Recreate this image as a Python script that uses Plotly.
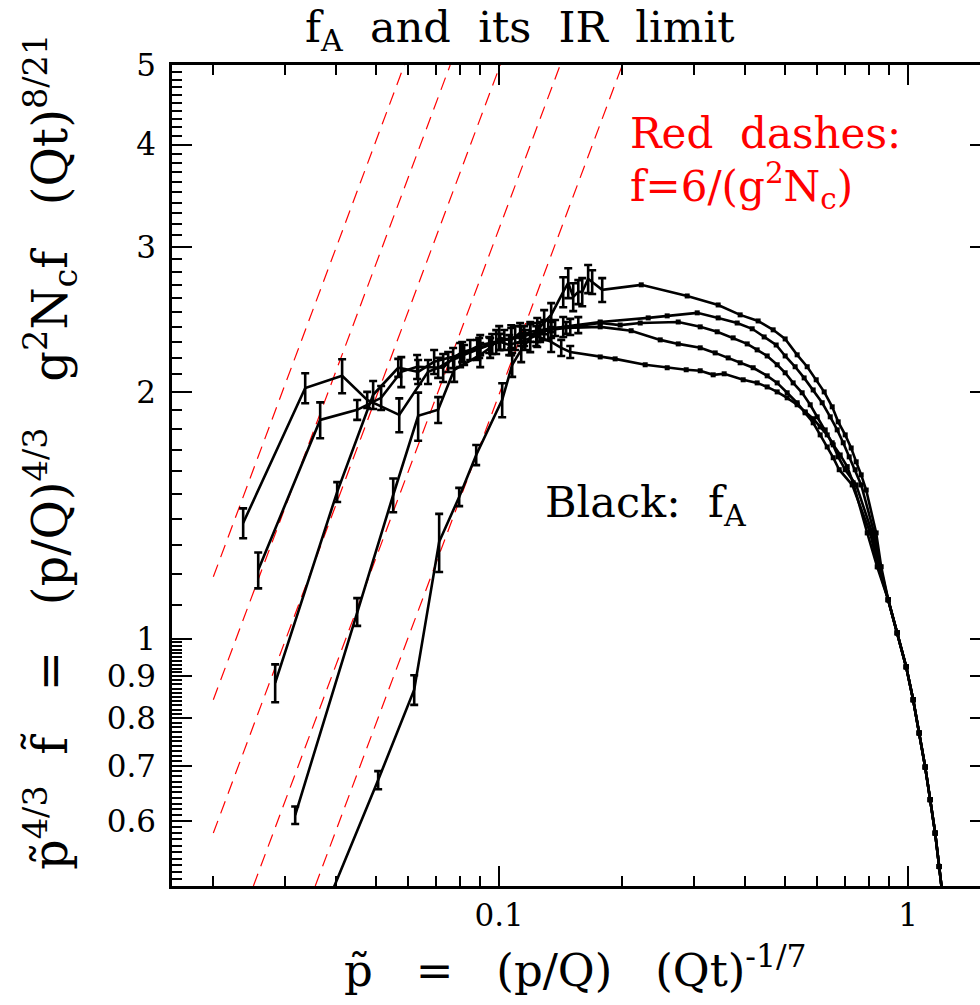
import math
import plotly.graph_objects as go

# ---------------- data ----------------
# Curve A (reaches the lowest p~)
a_ir_x = [0.02366, 0.03355, 0.0413, 0.04756, 0.05697, 0.06699, 0.07092, 0.07503, 0.0821, 0.08836,
          0.09453, 0.10056, 0.1058, 0.1158, 0.1232, 0.1340, 0.1418, 0.1492]
a_ir_y = [1.384, 2.021, 2.091, 1.955, 1.874, 2.115, 2.139, 2.175, 2.218, 2.249,
          2.280, 2.300, 2.280, 2.313, 2.339, 2.300, 2.262, 2.236]
a_ir_err = [0.058, 0.085, 0.10, 0.044, 0.089, 0.071, 0.060, 0.061, 0.062, 0.063,
            0.051, 0.052, 0.064, 0.065, 0.065, 0.064, 0.051, 0.038]
a_hi_x = [0.1766, 0.1921, 0.2275, 0.2575, 0.2866, 0.3101, 0.3336, 0.3549, 0.3950, 0.4273, 0.4521,
          0.4783, 0.5059, 0.5352, 0.5599, 0.5858, 0.6093, 0.6339, 0.6557, 0.6820, 0.7095,
          0.7337, 0.7941, 0.8399]
a_hi_y = [2.205, 2.193, 2.157, 2.139, 2.127, 2.121, 2.097, 2.103, 2.068, 2.050, 2.027,
          1.999, 1.966, 1.928, 1.890, 1.854, 1.812, 1.772, 1.723, 1.675, 1.621,
          1.549, 1.346, 1.224]

# Curve B
b_ir_x = [0.02575, 0.0365, 0.04496, 0.05145, 0.05762, 0.0630, 0.07295, 0.07716, 0.08118, 0.08936,
          0.09614, 0.1029, 0.1094, 0.1151, 0.1259, 0.1340, 0.1458]
b_ir_y = [1.213, 1.848, 1.901, 1.966, 2.115, 2.145, 2.139, 2.199, 2.236, 2.262,
          2.287, 2.313, 2.326, 2.339, 2.366, 2.379, 2.392]
b_ir_err = [0.061, 0.093, 0.053, 0.066, 0.089, 0.072, 0.084, 0.062, 0.063, 0.063,
            0.064, 0.065, 0.078, 0.065, 0.066, 0.053, 0.040]
b_hi_x = [0.1766, 0.2102, 0.2476, 0.2740, 0.3101, 0.3374, 0.3630, 0.3883, 0.4178, 0.4521, 0.4783,
          0.5059, 0.5352, 0.5599, 0.5858, 0.6093, 0.6339, 0.6557, 0.6782,
          0.7297, 0.8074, 0.8446]
b_hi_y = [2.399, 2.373, 2.313, 2.287, 2.262, 2.230, 2.199, 2.169, 2.139, 2.091, 2.050,
          1.994, 1.939, 1.885, 1.833, 1.772, 1.713, 1.662, 1.607,
          1.540, 1.346, 1.224]

# Curve C
c_ir_x = [0.02833, 0.04017, 0.04918, 0.05665, 0.06337, 0.06933, 0.08027, 0.08494, 0.08987, 0.09833,
          0.1070, 0.1132, 0.1191, 0.1288, 0.1370, 0.1492]
c_ir_y = [0.884, 1.510, 1.983, 2.139, 2.115, 2.175, 2.218, 2.249, 2.280, 2.300,
          2.326, 2.339, 2.366, 2.379, 2.392, 2.399]
c_ir_err = [0.047, 0.042, 0.078, 0.054, 0.071, 0.073, 0.075, 0.063, 0.064, 0.077,
            0.065, 0.065, 0.066, 0.067, 0.054, 0.054]
c_hi_x = [0.1766, 0.1976, 0.2212, 0.2740, 0.3101, 0.3412, 0.3733, 0.4040, 0.4273, 0.4521, 0.4783,
          0.5003, 0.5233, 0.5505, 0.5760, 0.5991, 0.6268, 0.6520, 0.6744, 0.7015,
          0.7462, 0.8166, 0.8494]
c_hi_y = [2.425, 2.411, 2.425, 2.432, 2.399, 2.366, 2.326, 2.287, 2.249, 2.211, 2.157,
          2.109, 2.050, 1.994, 1.928, 1.864, 1.797, 1.733, 1.666, 1.607,
          1.540, 1.346, 1.224]

# Curve D
d_ir_x = [0.03171, 0.04496, 0.05506, 0.06337, 0.07092, 0.07762, 0.08987, 0.09506, 0.1000, 0.1070,
          0.1125, 0.1239, 0.1318, 0.1434, 0.1561]
d_ir_y = [0.610, 1.079, 1.497, 1.869, 1.901, 2.127, 2.218, 2.262, 2.326, 2.313,
          2.359, 2.346, 2.379, 2.399, 2.411]
d_ir_err = [0.015, 0.042, 0.071, 0.126, 0.069, 0.071, 0.075, 0.063, 0.078, 0.097,
            0.066, 0.079, 0.067, 0.067, 0.054]
d_hi_x = [0.1766, 0.2314, 0.2575, 0.3049, 0.3431, 0.3818, 0.4155, 0.4445, 0.4756, 0.5003, 0.5292,
          0.5567, 0.5858, 0.6162, 0.6448, 0.6706, 0.6937, 0.7175, 0.7420,
          0.7676, 0.8257, 0.8543]
d_hi_y = [2.432, 2.460, 2.474, 2.495, 2.460, 2.425, 2.386, 2.332, 2.280, 2.211, 2.145,
          2.079, 2.010, 1.939, 1.864, 1.797, 1.733, 1.666, 1.607,
          1.540, 1.346, 1.224]

# Curve E (earliest; top curve at large p~)
e_ir_x = [0.0357, 0.05059, 0.06197, 0.07132, 0.07983, 0.08786, 0.1017, 0.1076, 0.1132, 0.1191,
          0.1239, 0.1288, 0.1340, 0.1434, 0.1475, 0.1517, 0.1561, 0.1596, 0.1650, 0.1688, 0.1786]
e_ir_y = [0.442, 0.673, 0.867, 1.313, 1.489, 1.675, 1.955, 2.157, 2.249, 2.326,
          2.379, 2.432, 2.481, 2.646, 2.714, 2.609, 2.646, 2.646, 2.745, 2.721, 2.661]
e_ir_err = [0.012, 0.017, 0.036, 0.107, 0.038, 0.047, 0.093, 0.072, 0.076, 0.091,
            0.080, 0.082, 0.083, 0.111, 0.114, 0.102, 0.089, 0.104, 0.108, 0.091, 0.089]
e_hi_x = [0.2225, 0.2882, 0.3431, 0.3883, 0.4297, 0.4676, 0.5003, 0.5352, 0.5663, 0.5958, 0.6232,
          0.6520, 0.6744, 0.7015, 0.7255, 0.7462, 0.7676,
          0.7895, 0.8351, 0.8590]
e_hi_y = [2.699, 2.616, 2.551, 2.481, 2.439, 2.379, 2.319, 2.218, 2.145, 2.068, 1.999,
          1.917, 1.838, 1.772, 1.708, 1.643, 1.584,
          1.518, 1.346, 1.224]

# Common UV tail where all curves coincide
tail_x = [0.8936, 0.9400, 0.9888, 1.0285, 1.0638, 1.1005, 1.1318, 1.1641, 1.1906, 1.2177, 1.2454]
tail_y = [1.116, 1.017, 0.9245, 0.843, 0.768, 0.698, 0.637, 0.580, 0.528, 0.481, 0.436]

# Red dashed IR limits f = 6/(g^2 N_c): start and end points of each line
red_x0 = [0.02, 0.02, 0.02, 0.02506, 0.0355]
red_y0 = [1.19, 0.843, 0.58, 0.5, 0.5]
red_x1 = [0.0586, 0.0759, 0.1006, 0.141, 0.2]
red_y1 = [5.0, 5.0, 5.0, 5.0, 5.0]

# Tick labels
x_major = [0.1, 1]
x_major_text = ["0.1", "1"]
y_major = [0.6, 0.7, 0.8, 0.9, 1, 2, 3, 4, 5]
y_major_text = ["0.6", "0.7", "0.8", "0.9", "1", "2", "3", "4", "5"]

# ---------------- figure ----------------
FONT = "DejaVu Serif"
NB = "\u00a0"
fig = go.Figure()

for i in range(len(red_x0)):
    fig.add_trace(go.Scatter(
        x=[red_x0[i], red_x1[i]], y=[red_y0[i], red_y1[i]], mode="lines",
        line=dict(color="#ff0000", width=1.2, dash="13px,8px"),
        hoverinfo="skip", showlegend=False))

curves = [
    (a_ir_x, a_ir_y, a_ir_err, a_hi_x, a_hi_y),
    (b_ir_x, b_ir_y, b_ir_err, b_hi_x, b_hi_y),
    (c_ir_x, c_ir_y, c_ir_err, c_hi_x, c_hi_y),
    (d_ir_x, d_ir_y, d_ir_err, d_hi_x, d_hi_y),
    (e_ir_x, e_ir_y, e_ir_err, e_hi_x, e_hi_y),
]
for ir_x, ir_y, ir_err, hi_x, hi_y in curves:
    fig.add_trace(go.Scatter(
        x=ir_x + hi_x + tail_x, y=ir_y + hi_y + tail_y, mode="lines",
        line=dict(color="black", width=2.6), showlegend=False, hoverinfo="skip"))
    fig.add_trace(go.Scatter(
        x=ir_x, y=ir_y, mode="markers", marker=dict(size=1, color="black"),
        error_y=dict(type="data", array=ir_err, visible=True, color="black",
                     thickness=2.6, width=4),
        showlegend=False, hoverinfo="skip"))
    fig.add_trace(go.Scatter(
        x=hi_x + tail_x, y=hi_y + tail_y, mode="markers",
        marker=dict(symbol="square", size=5, color="black"),
        showlegend=False, hoverinfo="skip"))

# invisible anchor for the right-hand tick axis
fig.add_trace(go.Scatter(x=[0.1], y=[1], yaxis="y2", mode="markers",
                         marker=dict(opacity=0), showlegend=False, hoverinfo="skip"))

x_minor = [k * 0.01 for k in range(2, 10)] + [k * 0.1 for k in range(2, 10)]
y_minor = ([k / 100 for k in range(51, 100) if k % 10 != 0]
           + [k / 10 for k in range(11, 50) if k % 10 != 0])

tickfont = dict(family=FONT, size=31, color="black")
yrange = [math.log10(0.5), math.log10(5)]

fig.update_layout(
    width=980, height=1005,
    margin=dict(l=172, r=0, t=65, b=119),
    paper_bgcolor="white", plot_bgcolor="white", showlegend=False,
    xaxis=dict(type="log", range=[-1.8, 0.1756], showgrid=False, zeroline=False,
               showline=True, linecolor="black", linewidth=2.6, mirror="ticks",
               ticks="inside", ticklen=20, tickwidth=2.4, tickcolor="black",
               tickmode="array", tickvals=x_major, ticktext=x_major_text,
               tickfont=tickfont, ticklabelstandoff=0,
               minor=dict(tickmode="array", tickvals=x_minor, ticks="inside",
                          ticklen=10, tickwidth=2.2, tickcolor="black", showgrid=False)),
    yaxis=dict(type="log", range=yrange, showgrid=False, zeroline=False,
               showline=True, linecolor="black", linewidth=2.6,
               ticks="inside", ticklen=20, tickwidth=2.4, tickcolor="black",
               tickmode="array", tickvals=y_major, ticktext=y_major_text,
               tickfont=tickfont, ticklabelstandoff=7,
               minor=dict(tickmode="array", tickvals=y_minor, ticks="inside",
                          ticklen=10, tickwidth=2.2, tickcolor="black", showgrid=False)),
    yaxis2=dict(type="log", range=yrange, overlaying="y", side="right", anchor="x",
                showgrid=False, zeroline=False, showline=False,
                ticks="inside", ticklen=10, tickwidth=2.4, tickcolor="black",
                tickmode="array", tickvals=y_major, showticklabels=False),
)

ann = []
ann.append(dict(text="f<sub>A</sub>" + NB * 2 + "and" + NB * 2 + "its" + NB * 2 + "IR" + NB * 2 + "limit",
                x=0.4307, y=1.0426, xref="paper", yref="paper", showarrow=False,
                xanchor="center", yanchor="middle",
                font=dict(family=FONT, size=43, color="black")))
ann.append(dict(text="p\u0303" + NB * 3 + "=" + NB * 3 + "(p/Q)" + NB * 3 + "(Qt)<sup>-1/7</sup>",
                x=0.4988, y=-0.0987, xref="paper", yref="paper", showarrow=False,
                xanchor="center", yanchor="middle",
                font=dict(family=FONT, size=45, color="black")))
ann.append(dict(text="p\u0303<sup>4/3</sup>" + NB * 2 + "f\u0303" + NB * 3 + "=" + NB * 3
                + "(p/Q)<sup>4/3</sup>" + NB * 3 + "g<sup>2</sup>N<sub>c</sub>f" + NB * 3
                + "(Qt)<sup>8/21</sup>",
                x=-0.1510, y=0.5286, xref="paper", yref="paper", showarrow=False,
                textangle=-90, xanchor="center", yanchor="middle",
                font=dict(family=FONT, size=48, color="black")))
ann.append(dict(text="Red" + NB * 2 + "dashes:",
                x=0.5644, y=0.9170, xref="paper", yref="paper", showarrow=False,
                xanchor="left", yanchor="middle",
                font=dict(family=FONT, size=42, color="#ff0000")))
ann.append(dict(text="f=6/(g<sup>2</sup>N<sub>c</sub>)",
                x=0.5644, y=0.8525, xref="paper", yref="paper", showarrow=False,
                xanchor="left", yanchor="middle",
                font=dict(family=FONT, size=42, color="#ff0000")))
ann.append(dict(text="Black:" + NB * 2 + "f<sub>A</sub>",
                x=0.4592, y=0.464, xref="paper", yref="paper", showarrow=False,
                xanchor="left", yanchor="middle",
                font=dict(family=FONT, size=43, color="black")))
fig.update_layout(annotations=ann)

fig.write_html("out.html", config={"displayModeBar": False},
               post_script="document.body.style.margin='0px';document.body.style.overflow='hidden';")
